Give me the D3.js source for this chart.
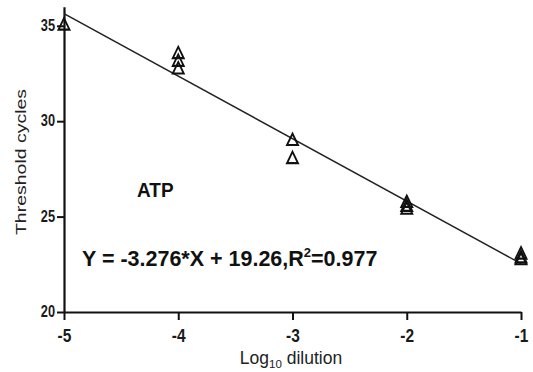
<!DOCTYPE html>
<html>
<head>
<meta charset="utf-8">
<script src="https://cdn.jsdelivr.net/npm/d3@7.9.0/dist/d3.min.js"></script>
<style>
  body { margin: 0; background: #fff; }
  svg { display: block; font-family: "Liberation Sans", Arial, sans-serif; }
</style>
</head>
<body>
<svg id="chart" width="533" height="372"></svg>
<script>
// replicate measurements per dilution
const dilutions = [-5, -4, -4, -4, -3, -3, -2, -2, -2, -1, -1, -1];
const cycles = [35.0, 33.5, 33.1, 32.7, 28.95, 28.0, 25.7, 25.5, 25.35, 23.0, 22.8, 22.7];

const xTicks = [-5, -4, -3, -2, -1];
const yTicks = [20, 25, 30, 35];

const slope = -3.276;
const intercept = 19.26;
const rSquared = 0.977;

const svg = d3.select('#chart');

const x = d3.scaleLinear().domain([-5, -1]).range([64, 521]);
const y = d3.scaleLinear().domain([20, 36]).range([312, 6.7]);

// axes (labels in the source look a bit taller than wide)
const xAxis = svg.append('g')
  .attr('transform', `translate(0,${y(20)})`)
  .call(d3.axisBottom(x).tickValues(xTicks).tickFormat(d3.format('d')).tickSize(8).tickSizeOuter(0));
const yAxis = svg.append('g')
  .attr('transform', `translate(${x(-5)},0)`)
  .call(d3.axisLeft(y).tickValues(yTicks).tickSize(7).tickSizeOuter(0));

[xAxis, yAxis].forEach(g => {
  g.select('.domain').attr('stroke', '#111').attr('stroke-width', 2.2);
  g.selectAll('.tick line').attr('stroke', '#111').attr('stroke-width', 2);
  g.selectAll('.tick text')
    .attr('fill', '#1a1a1a')
    .attr('font-weight', 'bold')
    .attr('font-family', '"Liberation Sans", Arial, sans-serif');
});
xAxis.selectAll('.tick text')
  .text(d => String(d).replace('\u2212', '-'))
  .attr('font-size', 15.5)
  .attr('y', 30 / 1.2).attr('dy', 0)
  .attr('transform', 'scale(1,1.2)');
yAxis.selectAll('.tick text')
  .attr('font-size', 12.8)
  .attr('x', -9)
  .attr('dy', '0.27em')
  .attr('transform', 'scale(1,1.3)')
  .attr('y', 0);
// keep y tick labels centred on their ticks after the vertical stretch
yAxis.selectAll('.tick').each(function () {
  d3.select(this).select('text').attr('transform', 'scale(1,1.3)');
});

// regression line
const line = d3.line().x(d => x(d)).y(d => y(slope * d + intercept));
svg.append('path')
  .attr('d', line([-5, -1]))
  .attr('fill', 'none')
  .attr('stroke', '#222')
  .attr('stroke-width', 1.5);

// points
const tri = d3.symbol().type(d3.symbolTriangle).size(52);
svg.append('g').selectAll('path')
  .data(dilutions.map((d, i) => [d, cycles[i]]))
  .join('path')
  .attr('d', tri)
  .attr('transform', d => `translate(${x(d[0])},${y(d[1])}) scale(1,1.2)`)
  .attr('fill', 'none')
  .attr('stroke', '#111')
  .attr('stroke-width', 1.8);

// labels
svg.append('text')
  .attr('transform', 'translate(137,197) scale(1,1.1)')
  .attr('font-size', 19).attr('font-weight', 'bold').attr('fill', '#111')
  .text('ATP');

const eq = svg.append('text')
  .attr('transform', 'translate(82,266) scale(1,1.05)')
  .attr('font-size', 21.5).attr('font-weight', 'bold').attr('fill', '#111');
eq.append('tspan').text(`Y = ${slope}*X + ${intercept},R`);
eq.append('tspan').attr('font-size', 13).attr('dy', -9).text('2');
eq.append('tspan').attr('dy', 9).text(`=${rSquared}`);

svg.append('text')
  .attr('transform', 'translate(26,162) rotate(-90) scale(1.3,1)')
  .attr('text-anchor', 'middle')
  .attr('font-size', 15).attr('fill', '#222')
  .text('Threshold cycles');

const xl = svg.append('text')
  .attr('x', 291).attr('y', 364)
  .attr('text-anchor', 'middle')
  .attr('font-size', 17.5).attr('fill', '#222');
xl.append('tspan').text('Log');
xl.append('tspan').attr('font-size', 11.5).attr('dy', 4).text('10');
xl.append('tspan').attr('dy', -4).text(' dilution');
</script>
</body>
</html>
